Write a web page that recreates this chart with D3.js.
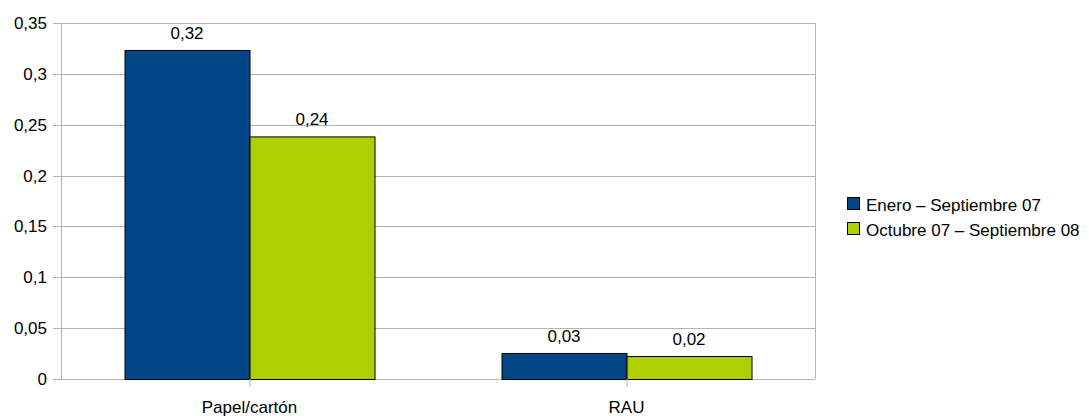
<!DOCTYPE html>
<html>
<head>
<meta charset="utf-8">
<script src="https://d3js.org/d3.v7.min.js"></script>
<style>
  body { margin: 0; background: #fff; }
  text { font-family: "Liberation Sans", Arial, sans-serif; font-size: 17px; fill: #000; }
</style>
</head>
<body>
<svg id="chart" width="1089" height="416"></svg>
<script>
// chart data
const categories = ["Papel/cartón", "RAU"];
const seriesNames = ["Enero – Septiembre 07", "Octubre 07 – Septiembre 08"];
const serie1 = [0.3235, 0.0256];
const serie2 = [0.2385, 0.0226];
const labels1 = ["0,32", "0,03"];
const labels2 = ["0,24", "0,02"];
const yTicks = [0, 0.05, 0.1, 0.15, 0.2, 0.25, 0.3, 0.35];
const colors = ["#004586", "#aecf00"];

const svg = d3.select("#chart");
const plotL = 61, plotR = 815, plotT = 23, plotB = 379;

const x = d3.scaleBand().domain(categories).range([plotL, plotR]);
const inner = d3.scaleBand().domain([0, 1]).range([0, 250]);
const y = d3.scaleLinear().domain([0, 0.35]).range([plotB, plotT]);
const fmt = d => String(d).replace(".", ",");

// gridlines
svg.append("g").selectAll("line").data(yTicks).enter().append("line")
    .attr("x1", plotL - 8).attr("x2", plotR)
    .attr("y1", d => Math.round(y(d)) + 0.5).attr("y2", d => Math.round(y(d)) + 0.5)
    .attr("stroke", "#b3b3b3").attr("stroke-width", 1);

// plot frame (left and right)
svg.append("line").attr("x1", plotL + 0.5).attr("x2", plotL + 0.5)
    .attr("y1", plotT).attr("y2", plotB).attr("stroke", "#b3b3b3");
svg.append("line").attr("x1", plotR + 0.5).attr("x2", plotR + 0.5)
    .attr("y1", plotT).attr("y2", plotB).attr("stroke", "#b3b3b3");

// y labels
svg.append("g").selectAll("text").data(yTicks).enter().append("text")
    .attr("x", plotL - 14).attr("y", d => y(d) + 6)
    .attr("text-anchor", "end").text(fmt);

// bars
const series = [serie1, serie2];
const lbls = [labels1, labels2];
series.forEach((vals, s) => {
  const g = svg.append("g");
  g.selectAll("rect").data(vals).enter().append("rect")
      .attr("x", (d, i) => x(categories[i]) + x.bandwidth() / 2 - 125 + inner(s) + 0.5)
      .attr("y", d => y(d) + 0.5)
      .attr("width", inner.bandwidth())
      .attr("height", d => plotB - y(d))
      .attr("fill", colors[s]).attr("stroke", "#000").attr("stroke-width", 1);
  g.selectAll("text").data(vals).enter().append("text")
      .attr("x", (d, i) => x(categories[i]) + x.bandwidth() / 2 - 125 + inner(s) + inner.bandwidth() / 2)
      .attr("y", d => y(d) - 11)
      .attr("text-anchor", "middle")
      .text((d, i) => lbls[s][i]);
});

// category ticks and labels
categories.forEach(c => {
  const cx = x(c) + x.bandwidth() / 2;
  svg.append("line").attr("x1", cx + 0.5).attr("x2", cx + 0.5)
      .attr("y1", plotB).attr("y2", plotB + 8).attr("stroke", "#b3b3b3");
  svg.append("text").attr("x", cx).attr("y", 413)
      .attr("text-anchor", "middle").text(c);
});

// legend
const leg = svg.append("g").attr("transform", "translate(847,197)");
seriesNames.forEach((n, i) => {
  leg.append("rect").attr("x", 0.5).attr("y", i * 25 + 0.5)
      .attr("width", 12).attr("height", 12)
      .attr("fill", colors[i]).attr("stroke", "#000");
  leg.append("text").attr("x", 19).attr("y", i * 25 + 14).text(n);
});
</script>
</body>
</html>
